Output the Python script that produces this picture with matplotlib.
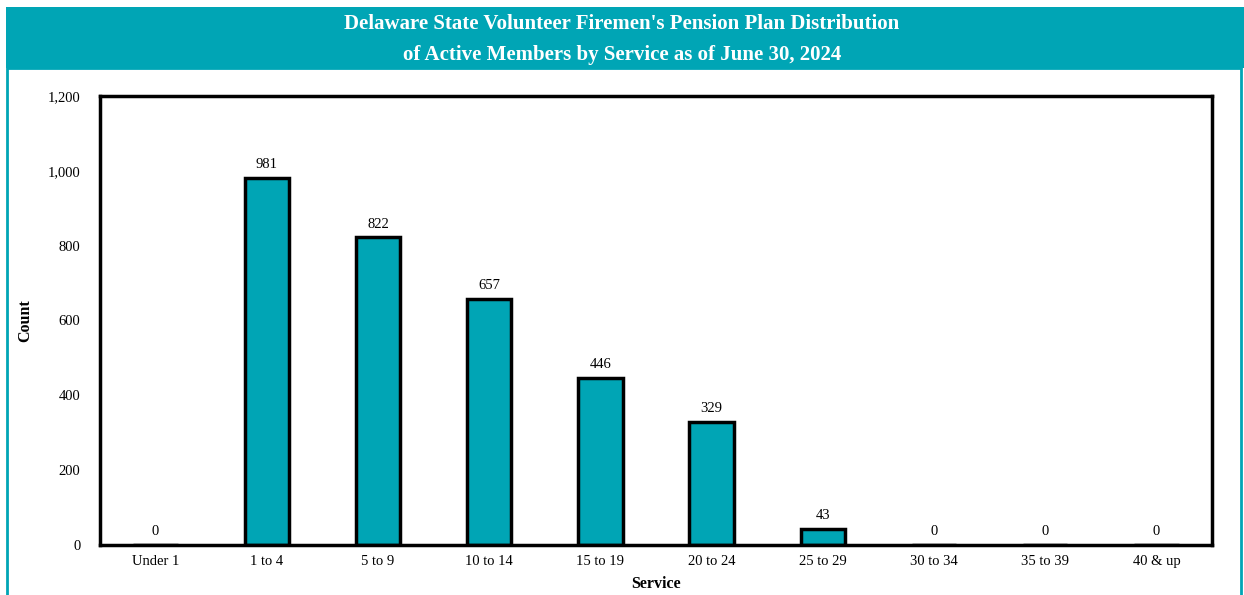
import matplotlib.pyplot as plt
from matplotlib.patches import Rectangle

# data
categories = ['Under 1', '1 to 4', '5 to 9', '10 to 14', '15 to 19',
              '20 to 24', '25 to 29', '30 to 34', '35 to 39', '40 & up']
counts = [0, 981, 822, 657, 446, 329, 43, 0, 0, 0]
y_ticks = [0, 200, 400, 600, 800, 1000, 1200]
y_tick_labels = ['0', '200', '400', '600', '800', '1,000', '1,200']

teal = '#00A5B5'
plt.rcParams['font.family'] = ['Liberation Serif', 'DejaVu Serif']

fig = plt.figure(figsize=(12.44, 5.95), dpi=100)

# header band and outer frame
fig.patches.append(Rectangle((6 / 1244, 1 - 68 / 595), 1 - 6 / 1244, 61 / 595,
                             transform=fig.transFigure, facecolor=teal,
                             edgecolor='none', zorder=0))
fig.patches.append(Rectangle((6.5 / 1244, -0.01), (1241 - 6.5) / 1244, 1 - 68 / 595 + 0.01,
                             transform=fig.transFigure, facecolor='none',
                             edgecolor=teal, linewidth=2, zorder=0))
fig.text(0.5, 1 - 24 / 595, "Delaware State Volunteer Firemen's Pension Plan Distribution",
         ha='center', va='center', color='white', fontsize=15, fontweight='bold')
fig.text(0.5, 1 - 55 / 595, "of Active Members by Service as of June 30, 2024",
         ha='center', va='center', color='white', fontsize=15, fontweight='bold')

ax = fig.add_axes([100 / 1244, 1 - 545 / 595, 1112 / 1244, 449 / 595])
x = range(len(categories))
ax.bar(x, counts, width=0.4, color=teal, edgecolor='black', linewidth=2.5)
for i, v in zip(x, counts):
    ax.text(i, v + 18, f'{v:,}', ha='center', va='bottom', fontsize=10.5)

ax.set_xlim(-0.5, len(categories) - 0.5)
ax.set_ylim(0, 1200)
ax.set_xticks(list(x))
ax.set_xticklabels(categories, fontsize=10.5)
ax.set_yticks(y_ticks)
ax.set_yticklabels(y_tick_labels, fontsize=10.5)
ax.tick_params(axis='x', length=0, pad=7)
ax.tick_params(axis='y', length=0, pad=14)
for spine in ax.spines.values():
    spine.set_linewidth(2.5)

ax.set_xlabel('Service', fontsize=11.5, fontweight='bold', labelpad=6)
ax.set_ylabel('Count', fontsize=11.5, fontweight='bold')
ax.yaxis.set_label_coords(-0.06, 0.5)

fig.savefig('out.png', dpi=100)
